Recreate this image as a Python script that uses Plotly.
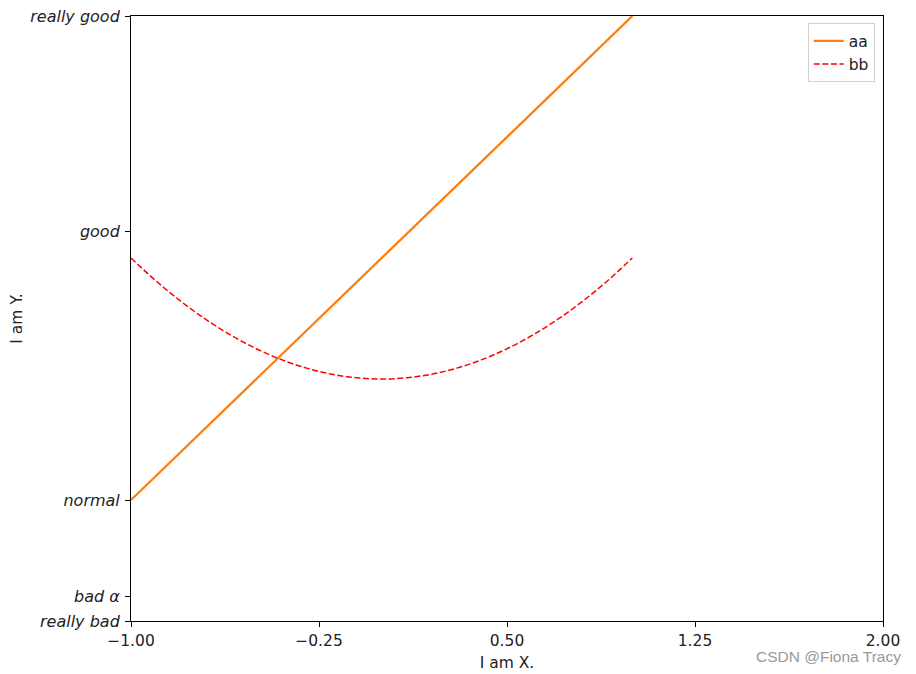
import plotly.graph_objects as go

# Series "aa" (straight line)
aa_x = [-1.0, 1.0]
aa_y = [-1.0, 3.0]

# Series "bb" (curve)
bb_x = [-1.0, -0.9, -0.8, -0.7, -0.6, -0.5, -0.4, -0.3, -0.2, -0.1, 0.0,
        0.1, 0.2, 0.3, 0.4, 0.5, 0.6, 0.7, 0.8, 0.9, 1.0]
bb_y = [1.0, 0.81, 0.64, 0.49, 0.36, 0.25, 0.16, 0.09, 0.04, 0.01, 0.0,
        0.01, 0.04, 0.09, 0.16, 0.25, 0.36, 0.49, 0.64, 0.81, 1.0]

x_tick_vals = [-1.0, -0.25, 0.5, 1.25, 2.0]
x_tick_text = ["\u22121.00", "\u22120.25", "0.50", "1.25", "2.00"]
y_tick_vals = [-2.0, -1.8, -1.0, 1.22, 3.0]
y_tick_text = ["<i>really bad</i>", "<i>bad \u03b1</i>", "<i>normal</i>", "<i>good</i>", "<i>really good</i>"]

font_family = "DejaVu Sans"
fs = 15.5

fig = go.Figure()
fig.add_trace(go.Scatter(x=aa_x, y=aa_y, mode="lines", name="aa",
                         line=dict(color="#ff7f0e", width=2.3)))
fig.add_trace(go.Scatter(x=bb_x, y=bb_y, mode="lines", name="bb", line_shape="spline",
                         line=dict(color="red", width=1.5, dash="6px,2.6px")))

# page body has an 8px margin; figure placed so the plot box lands at x 131-883, y 16-621
fig.update_layout(
    width=908, height=666,
    margin=dict(l=123, r=33, t=8, b=53, autoexpand=False),
    paper_bgcolor="white", plot_bgcolor="white",
    font=dict(family=font_family, size=fs, color="#222"),
    xaxis=dict(range=[-1, 2], tickvals=x_tick_vals, ticktext=x_tick_text,
               showgrid=False, zeroline=False, showline=True, mirror=True,
               linecolor="black", linewidth=1, ticks="outside", ticklen=5,
               tickcolor="black", tickfont=dict(size=fs, color="#222"),
               automargin=False, ticklabeloverflow="allow",
               title=dict(text="I am X.", font=dict(size=fs), standoff=8)),
    yaxis=dict(range=[-2, 3], tickvals=y_tick_vals, ticktext=y_tick_text,
               showgrid=False, zeroline=False, showline=True, mirror=True,
               linecolor="black", linewidth=1, ticks="outside", ticklen=5,
               tickcolor="black", tickfont=dict(size=16, color="#222"),
               automargin=False, ticklabeloverflow="allow", ticklabelstandoff=2,
               title=dict(text="I am Y.", font=dict(size=fs), standoff=12)),
    legend=dict(x=0.989, y=0.988, xanchor="right", yanchor="top",
                bgcolor="rgba(255,255,255,0.8)", bordercolor="#d0d0d0", borderwidth=1,
                font=dict(size=fs)),
    showlegend=True,
)

fig.add_annotation(text="CSDN @Fiona Tracy", xref="paper", yref="paper",
                   x=1.0266, y=-0.058, xanchor="right", yanchor="middle", showarrow=False,
                   font=dict(family="Liberation Sans", size=15.5, color="#999"))

fig.write_html("out.html")
